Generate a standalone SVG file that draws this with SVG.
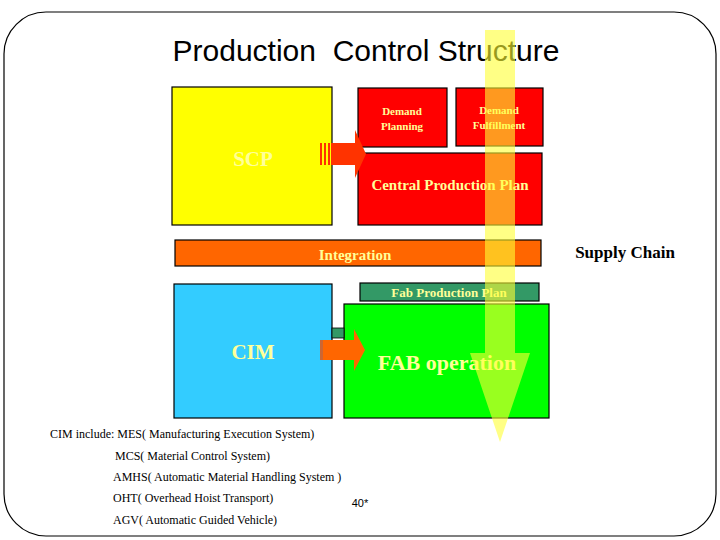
<svg xmlns="http://www.w3.org/2000/svg" width="720" height="540" viewBox="0 0 720 540">
<style>
.b{stroke:#000;stroke-width:1.2}
.lt{font-family:"Liberation Serif",serif;font-weight:bold;fill:#ffff99;text-anchor:middle}
.n{font-family:"Liberation Serif",serif;font-size:12px;fill:#000}
</style>
<rect width="720" height="540" fill="#fff"/>
<rect x="4" y="12" width="712" height="524" rx="42" fill="none" stroke="#000" stroke-width="1.2"/>
<text x="366" y="61" font-family="Liberation Sans,sans-serif" font-size="30" text-anchor="middle" xml:space="preserve">Production  Control Structure</text>
<g id="scp"><rect class="b" x="172" y="87" width="160" height="138" fill="#ffff00"/><text class="lt" x="253" y="166" font-size="21" font-weight="normal">SCP</text></g>
<g id="dp"><rect class="b" x="358" y="88" width="89" height="59" fill="#ff0000"/><text class="lt" x="402" y="115" font-size="11">Demand</text><text class="lt" x="402" y="130" font-size="11">Planning</text></g>
<g id="df"><rect class="b" x="456" y="88" width="87" height="58" fill="#ff0000"/><text class="lt" x="499" y="114" font-size="11">Demand</text><text class="lt" x="499" y="129" font-size="11">Fulfillment</text></g>
<g id="cpp"><rect class="b" x="358" y="153" width="184" height="72" fill="#ff0000"/><text class="lt" x="450" y="190" font-size="15">Central Production Plan</text></g>
<g id="integration"><rect class="b" x="175" y="240" width="366" height="26" fill="#ff6600"/><text class="lt" x="355" y="260" font-size="15">Integration</text></g>
<g id="fpp"><rect class="b" x="360" y="283" width="179" height="18" fill="#339966"/><text class="lt" x="449" y="297" font-size="13">Fab Production Plan</text></g>
<g id="cim"><rect class="b" x="174" y="284" width="158" height="134" fill="#33ccff"/><text class="lt" x="253" y="359" font-size="21">CIM</text></g>
<g id="fab"><rect class="b" x="344" y="304" width="205" height="114" fill="#00ff00"/><text class="lt" x="447" y="370" font-size="22">FAB operation</text></g>
<g id="connectors">
<rect x="332" y="328" width="12" height="10" fill="#339966" stroke="#000" stroke-width="0.8"/>
<rect x="320" y="143" width="2" height="22" fill="#ff3300"/><rect x="324" y="143" width="2" height="22" fill="#ff3300"/><rect x="328" y="143" width="2" height="22" fill="#ff3300"/>
<polygon points="331,143 355,143 355,130 366,154 355,178 355,165 331,165" fill="#ff3300"/>
<rect x="320" y="340" width="3" height="20" fill="#cc6633"/>
<polygon points="323,340 354,340 354,329 365,350 354,371 354,360 323,360" fill="#ff6600"/>
<polygon points="485,30 515,30 515,353 530,353 500,442 470,353 485,353" fill="#ffff33" fill-opacity="0.6"/>
</g>
<text x="625" y="258" font-family="Liberation Serif,serif" font-weight="bold" font-size="17" text-anchor="middle">Supply Chain</text>
<text class="n" x="50" y="438">CIM include: MES( Manufacturing Execution System)</text>
<text class="n" x="115" y="460">MCS( Material Control System)</text>
<text class="n" x="113" y="481">AMHS( Automatic Material Handling System )</text>
<text class="n" x="113" y="502">OHT( Overhead Hoist Transport)</text>
<text class="n" x="113" y="524">AGV( Automatic Guided Vehicle)</text>
<text x="360" y="507" font-family="Liberation Sans,sans-serif" font-size="11" text-anchor="middle">40*</text>
</svg>
